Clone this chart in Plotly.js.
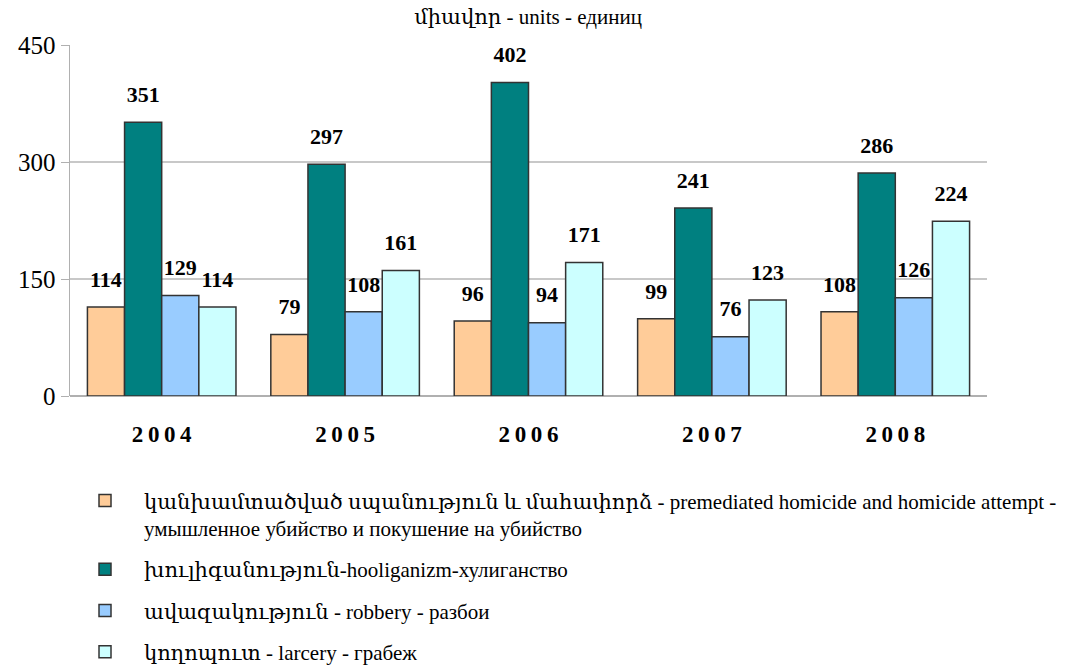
<!DOCTYPE html>
<html>
<head>
<meta charset="utf-8">
<script src="https://cdn.plot.ly/plotly-3.0.1.min.js"></script>
<style>html,body{margin:0;padding:0;background:#fff}#chart{width:1091px;height:670px}</style>
</head>
<body>
<div id="chart"></div>
<script>
const years = ["2004", "2005", "2006", "2007", "2008"];
const homicide = [114, 79, 96, 99, 108];
const hooliganism = [351, 297, 402, 241, 286];
const robbery = [129, 108, 94, 76, 126];
const larceny = [114, 161, 171, 123, 224];
const seriesNames = [
  "կանխամտածված սպանություն և մահափորձ - premediated homicide and homicide attempt -<br>умышленное убийство и покушение на убийство",
  "խուլիգանություն-hooliganizm-хулиганство",
  "ավազակություն - robbery - разбои",
  "կողոպուտ - larcery - грабеж"
];
const seriesValues = [homicide, hooliganism, robbery, larceny];
const colors = ["#FFCC99", "#008080", "#99CCFF", "#CCFFFF"];
const yTicks = [0, 150, 300, 450];
const titleText = "միավոր - units - единиц";

const serif = "'Liberation Serif', 'Times New Roman', 'DejaVu Serif', serif";
const barTraces = seriesValues.map((vals, i) => ({
  type: "bar",
  name: seriesNames[i],
  legendgroup: "g" + i,
  x: years,
  y: vals,
  marker: {color: colors[i], line: {color: "#333333", width: 1.5}},
  hoverinfo: "none"
}));
const labelTraces = seriesValues.map((vals, i) => ({
  type: "scatter",
  mode: "markers+text",
  showlegend: false,
  legendgroup: "g" + i,
  x: years,
  y: vals,
  text: vals.map(String),
  textposition: "top center",
  cliponaxis: false,
  marker: {size: 22, opacity: 0, color: colors[i]},
  textfont: {family: serif, size: 22, color: "#000", weight: "bold"},
  hoverinfo: "none"
}));

const layout = {
  width: 1091, height: 670,
  margin: {l: 70, r: 104, t: 45, b: 274, autoexpand: false},
  paper_bgcolor: "#fff", plot_bgcolor: "#fff",
  barmode: "group", bargap: 0.19, bargroupgap: 0,
  scattermode: "group", scattergap: 0.19,
  showlegend: true,
  font: {family: serif},
  title: {text: titleText, font: {family: serif, size: 21, color: "#000"}, x: 0.484, xanchor: "center", y: 0.975, yanchor: "middle"},
  xaxis: {
    type: "category",
    tickvals: years,
    ticktext: years.map(s => s.split("").join("\u2009")),
    tickfont: {family: serif, size: 23, color: "#000", weight: "bold"},
    tickangle: 0,
    automargin: false,
    showgrid: false, zeroline: false, showline: false, ticks: "", ticklen: 0,
    ticklabelstandoff: 22
  },
  yaxis: {
    range: [0, 450],
    automargin: false,
    tickvals: yTicks,
    ticktext: yTicks.map(String),
    tickfont: {family: serif, size: 25, color: "#000"},
    showgrid: true, gridcolor: "#c8c8c8", gridwidth: 1.5,
    showline: true, linecolor: "#b0b0b0", linewidth: 1.5,
    ticks: "outside", ticklen: 8, tickcolor: "#b0b0b0",
    zeroline: true, zerolinecolor: "#b0b0b0", zerolinewidth: 1.5
  },
  legend: {
    orientation: "v",
    xref: "container", yref: "container",
    x: 0.0605, xanchor: "left",
    y: 0.283, yanchor: "top",
    valign: "top",
    font: {family: serif, size: 21, color: "#000"},
    tracegroupgap: 11,
    itemwidth: 68,
    itemclick: false
  }
};

Plotly.newPlot("chart", barTraces.concat(labelTraces), layout, {displayModeBar: false, staticPlot: true});
</script>
</body>
</html>
